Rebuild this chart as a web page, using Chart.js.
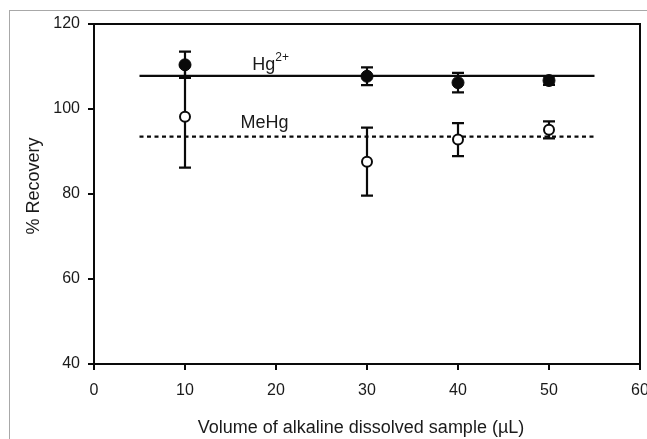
<!DOCTYPE html>
<html>
<head>
<meta charset="utf-8">
<script src="https://cdn.jsdelivr.net/npm/chart.js@4.4.1/dist/chart.umd.min.js"></script>
<style>
  html, body { margin: 0; padding: 0; background: #fff; }
  #wrap { position: relative; width: 647px; height: 439px; }
  #frame { position: absolute; left: 9px; top: 10px; right: 0; bottom: 0; border-top: 1px solid #a8a8a8; border-left: 1px solid #a8a8a8; }
  canvas { position: absolute; left: 0; top: 0; }
</style>
</head>
<body>
<div id="wrap"><div id="frame"></div><canvas id="chart" width="647" height="439"></canvas></div>
<script>
// data
var volumes = [10, 30, 40, 50];
var hgRecovery = [110.4, 107.7, 106.2, 106.7];
var hgError = [3.1, 2.1, 2.3, 1.0];
var mehgRecovery = [98.2, 87.6, 92.8, 95.1];
var mehgError = [12.0, 8.0, 3.9, 2.0];
var fitRange = [5, 55];
var hgMean = 107.8;
var mehgMean = 93.5;
var xTicks = [0, 10, 20, 30, 40, 50, 60];
var yTicks = [40, 60, 80, 100, 120];

var ink = "#0a0a0a";
var textColor = "#1a1a1a";
var fontFamily = "'Liberation Sans', Arial, Helvetica, sans-serif";

function points(xs, ys) {
  return xs.map(function (x, i) { return { x: x, y: ys[i] }; });
}

// error bars drawn under the markers
var errorBars = {
  id: "errorBars",
  beforeDatasetsDraw: function (chart) {
    var ctx = chart.ctx, xs = chart.scales.x, ys = chart.scales.y;
    ctx.save();
    ctx.strokeStyle = ink;
    ctx.lineWidth = 2.2;
    [[hgRecovery, hgError], [mehgRecovery, mehgError]].forEach(function (s) {
      volumes.forEach(function (v, i) {
        var x = xs.getPixelForValue(v);
        var top = ys.getPixelForValue(s[0][i] + s[1][i]);
        var bot = ys.getPixelForValue(s[0][i] - s[1][i]);
        ctx.beginPath();
        ctx.moveTo(x, top); ctx.lineTo(x, bot);
        ctx.moveTo(x - 6, top); ctx.lineTo(x + 6, top);
        ctx.moveTo(x - 6, bot); ctx.lineTo(x + 6, bot);
        ctx.stroke();
      });
    });
    ctx.restore();
  }
};

// box, axis titles and series labels
var annotations = {
  id: "annotations",
  afterDraw: function (chart) {
    var ctx = chart.ctx, a = chart.chartArea, xs = chart.scales.x, ys = chart.scales.y;
    ctx.save();
    ctx.strokeStyle = ink;
    ctx.lineWidth = 2;
    ctx.strokeRect(a.left, a.top, a.right - a.left, a.bottom - a.top);

    ctx.fillStyle = textColor;
    ctx.font = "18px " + fontFamily;
    ctx.textAlign = "center";
    ctx.textBaseline = "alphabetic";
    ctx.fillText("Volume of alkaline dissolved sample (\u00b5L)", 361, 433);

    ctx.save();
    ctx.translate(39, 186);
    ctx.rotate(-Math.PI / 2);
    ctx.fillText("% Recovery", 0, 0);
    ctx.restore();

    ctx.textAlign = "left";
    ctx.font = "18px " + fontFamily;
    var hx = xs.getPixelForValue(17.4), hy = ys.getPixelForValue(109.2);
    ctx.fillText("Hg", hx, hy);
    var w = ctx.measureText("Hg").width;
    ctx.font = "12px " + fontFamily;
    ctx.fillText("2+", hx + w, hy - 9);

    ctx.font = "18px " + fontFamily;
    ctx.fillText("MeHg", xs.getPixelForValue(16.1), ys.getPixelForValue(95.5));
    ctx.restore();
  }
};

var axisGrid = { display: true, drawOnChartArea: false, drawTicks: true, tickLength: 6, color: ink, lineWidth: 2 };
var axisBorder = { display: true, color: ink, width: 2 };

new Chart(document.getElementById("chart"), {
  type: "scatter",
  data: {
    datasets: [
      {
        label: "Hg2+",
        data: points(volumes, hgRecovery),
        pointStyle: "circle",
        pointRadius: 6,
        backgroundColor: ink,
        borderColor: ink,
        borderWidth: 1
      },
      {
        label: "MeHg",
        data: points(volumes, mehgRecovery),
        pointStyle: "circle",
        pointRadius: 5,
        backgroundColor: "#fff",
        borderColor: ink,
        borderWidth: 2
      },
      {
        label: "Hg2+ mean",
        data: points(fitRange, [hgMean, hgMean]),
        showLine: true,
        pointRadius: 0,
        borderColor: ink,
        borderWidth: 2.2
      },
      {
        label: "MeHg mean",
        data: points(fitRange, [mehgMean, mehgMean]),
        showLine: true,
        pointRadius: 0,
        borderColor: ink,
        borderWidth: 2.2,
        borderDash: [4, 3.5]
      }
    ]
  },
  options: {
    responsive: false,
    animation: false,
    layout: { padding: { top: 24, right: 7, left: 0, bottom: 0 } },
    plugins: { legend: { display: false }, tooltip: { enabled: false } },
    scales: {
      x: {
        type: "linear",
        min: 0,
        max: 60,
        afterBuildTicks: function (scale) { scale.ticks = xTicks.map(function (v) { return { value: v }; }); },
        afterFit: function (scale) { scale.height = 75; scale.paddingLeft = 0; scale.paddingRight = 0; },
        grid: axisGrid,
        border: axisBorder,
        ticks: { color: textColor, padding: 11, font: { family: fontFamily, size: 16 } }
      },
      y: {
        type: "linear",
        min: 40,
        max: 120,
        afterBuildTicks: function (scale) { scale.ticks = yTicks.map(function (v) { return { value: v }; }); },
        afterFit: function (scale) { scale.width = 94; scale.paddingTop = 0; scale.paddingBottom = 0; },
        grid: axisGrid,
        border: axisBorder,
        ticks: { color: textColor, padding: 8, font: { family: fontFamily, size: 16 } }
      }
    }
  },
  plugins: [errorBars, annotations]
});
</script>
</body>
</html>
